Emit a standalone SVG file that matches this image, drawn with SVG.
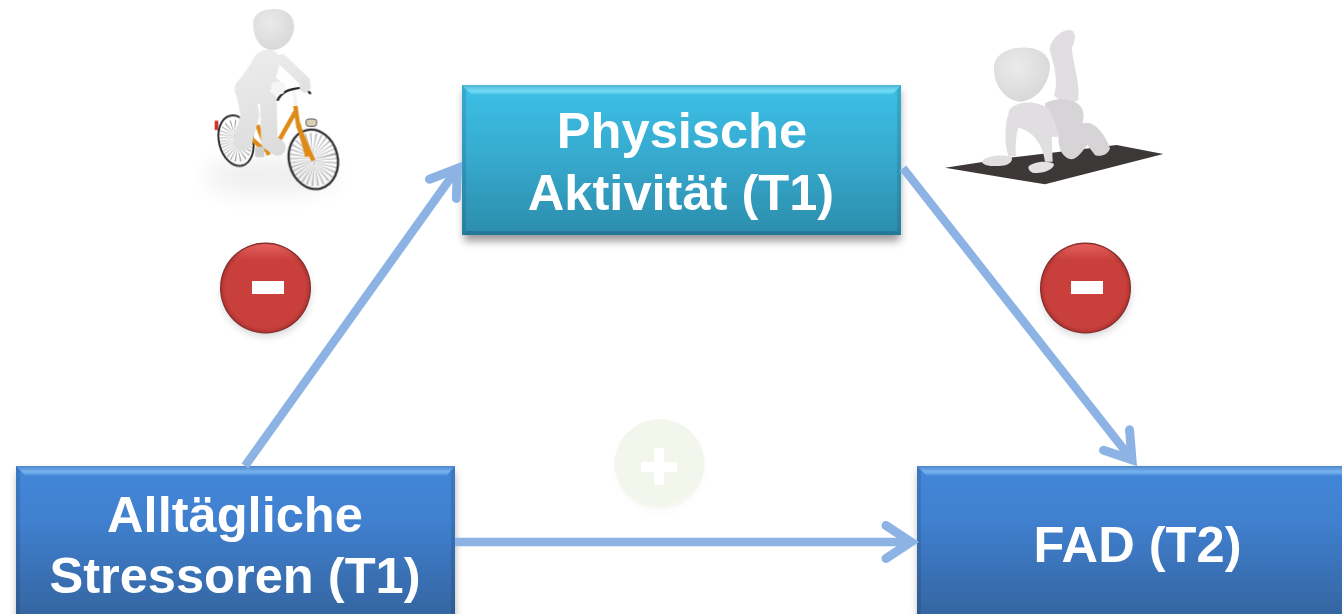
<svg xmlns="http://www.w3.org/2000/svg" width="1342" height="614" viewBox="0 0 1342 614">
<style>
.lbl{font-family:"Liberation Sans",Arial,sans-serif;font-weight:700;font-size:50.600px;fill:#fff;text-anchor:middle}
.conn{fill:none;stroke:#8db3e4;stroke-width:8.500;marker-end:url(#arrow)}
.skin{fill:url(#skin)}
.limb{fill:none;stroke:url(#skin);stroke-linecap:round;stroke-linejoin:round}
.edge{fill:#000;opacity:.1}
.yo{fill:#e0dee0}
.yo2{fill:#d6d4d6}
</style>
<defs>
<linearGradient id="teal" x1="0" y1="0" x2="0" y2="1"><stop offset="0" stop-color="#3cc0e6"/><stop offset=".45" stop-color="#37abd0"/><stop offset="1" stop-color="#2c8dac"/></linearGradient>
<linearGradient id="blue" x1="0" y1="0" x2="0" y2="1"><stop offset="0" stop-color="#4386d8"/><stop offset=".35" stop-color="#4080cf"/><stop offset="1" stop-color="#34649f"/></linearGradient>
<linearGradient id="hiT" x1="0" y1="0" x2="0" y2="1"><stop offset="0" stop-color="#4fb4d4"/><stop offset=".6" stop-color="#74dcf6"/><stop offset="1" stop-color="#40bfe4"/></linearGradient>
<linearGradient id="hiB" x1="0" y1="0" x2="0" y2="1"><stop offset="0" stop-color="#4c86cc"/><stop offset=".6" stop-color="#78b4f0"/><stop offset="1" stop-color="#4587d9"/></linearGradient>
<radialGradient id="red" cx=".5" cy=".5" r=".5"><stop offset="0" stop-color="#cb403d"/><stop offset=".88" stop-color="#c93f3c"/><stop offset=".96" stop-color="#b33734"/><stop offset="1" stop-color="#702524"/></radialGradient>
<linearGradient id="gloss" x1="0" y1="0" x2="0" y2="1"><stop offset="0" stop-color="#ee6a64" stop-opacity=".8"/><stop offset=".18" stop-color="#ee6a64" stop-opacity="0"/></linearGradient>
<radialGradient id="pale" cx=".5" cy=".45" r=".55"><stop offset="0" stop-color="#f2f5ea"/><stop offset=".9" stop-color="#f3f6ec"/><stop offset="1" stop-color="#f7f9f3"/></radialGradient>
<linearGradient id="skin" gradientUnits="userSpaceOnUse" x1="200" y1="100" x2="320" y2="460"><stop offset="0" stop-color="#f0f0f0"/><stop offset="1" stop-color="#dcdcdc"/></linearGradient>
<radialGradient id="head" cx=".4" cy=".35" r=".75"><stop offset="0" stop-color="#ecebec"/><stop offset="1" stop-color="#d6d4d6"/></radialGradient>
<filter id="sh" x="-5%" y="-10%" width="110%" height="125%"><feGaussianBlur stdDeviation="4"/></filter>
<filter id="sh2" x="-30%" y="-30%" width="160%" height="160%"><feGaussianBlur stdDeviation="4"/></filter>
<filter id="soft" x="-5%" y="-5%" width="110%" height="110%"><feGaussianBlur stdDeviation="1.600"/></filter>
<filter id="ground" x="-40%" y="-100%" width="180%" height="300%"><feGaussianBlur stdDeviation="36"/></filter>
<marker id="arrow" markerUnits="userSpaceOnUse" markerWidth="60" markerHeight="60" viewBox="-50 -30 60 60" refX="-8" refY="0" orient="auto">
<path d="M-33-16.500L-8 0L-33 16.500" fill="none" stroke="#8db3e4" stroke-width="9" stroke-linecap="round" stroke-linejoin="miter" stroke-miterlimit="8"/>
</marker>
</defs>
<rect width="1342" height="614" fill="#fff"/>

<g id="figure-cyclist" transform="translate(170 0) scale(.3333)">
<ellipse cx="300" cy="530" rx="200" ry="50" fill="#000" opacity=".07" filter="url(#ground)"/>
<g filter="url(#soft)">
<rect x="134" y="362" width="11" height="28" fill="#d3322c"/>
<ellipse cx="198" cy="422" rx="25" ry="38" transform="rotate(-14 198 422)" fill="none" stroke="#a9a9a9" stroke-width="50" stroke-dasharray="2 5"/>
<ellipse cx="198" cy="422" rx="51" ry="77" transform="rotate(-14 198 422)" fill="none" stroke="#333" stroke-width="6"/>
<ellipse cx="430" cy="478" rx="36" ry="44" transform="rotate(-14 430 478)" fill="none" stroke="#a9a9a9" stroke-width="72" stroke-dasharray="2 6"/>
<ellipse cx="430" cy="478" rx="73" ry="90" transform="rotate(-14 430 478)" fill="none" stroke="#333" stroke-width="7"/>
<path d="M372 270L378 320" stroke="#f2f2f2" stroke-width="9" fill="none"/>
<path d="M376 318L385 380L430 482M385 370L412 470M376 335L312 448L280 448L240 412M262 375L296 465" fill="none" stroke="#de8a14" stroke-width="13" stroke-linejoin="round"/>
<rect x="408" y="357" width="32" height="22" rx="8" fill="#d9d2b4" stroke="#555" stroke-width="3"/>
<rect x="255" y="440" width="28" height="32" rx="8" fill="#cfcfcf"/>
<path class="limb" stroke-width="50" d="M295 300L298 425L322 442"/>
<path class="limb" stroke-width="56" d="M225 270L240 345L218 425"/>
<path class="skin" d="M252 172C270 145 312 142 325 165C335 195 318 235 305 255C302 295 270 320 240 315C200 305 185 275 198 250C220 225 235 205 252 172Z"/>
<path class="limb" stroke-width="32" d="M335 178L405 245"/>
<path class="limb" stroke-width="38" d="M268 185L285 230L322 262"/>
<rect x="305" y="245" width="40" height="40" rx="12" fill="#f6f6f6"/>
<path d="M322 302C335 275 355 266 405 262L422 282" fill="none" stroke="#2b2b2b" stroke-width="7"/>
<rect x="305" y="245" width="38" height="38" rx="12" fill="#f6f6f6"/>
<ellipse cx="405" cy="258" rx="17" ry="20" fill="#e2e2e2"/>
<path fill="url(#head)" d="M250 70C250 35 290 24 325 28C360 32 375 60 372 85C368 125 335 152 305 150C270 148 248 110 250 70Z"/>
</g>
</g>

<g id="figure-exercise" transform="translate(930 20) scale(.3333)">
<g filter="url(#soft)">
<path d="M45 443L250 412L560 375L700 402L345 493Z" fill="#3d3837"/>
<path class="yo2" d="M385 350C400 325 450 305 480 310C510 320 535 365 540 385C535 405 510 412 495 405L472 375C455 395 445 415 425 418C400 415 385 390 385 350Z"/>
<path class="yo" d="M360 95C355 70 385 30 420 30C440 32 438 60 425 85C430 130 450 190 445 240C430 250 385 245 372 225C385 190 375 140 360 95Z"/>
<path class="yo2" d="M345 250C380 230 440 230 458 270C468 305 450 345 405 352C375 355 350 330 345 250Z"/>
<path class="yo" d="M232 290C225 330 222 370 236 410L258 408C255 380 258 345 266 318C255 300 240 285 232 290Z"/>
<path class="yo" d="M238 270C260 240 330 240 358 270C375 300 385 345 390 350L365 350L368 425L345 425C340 385 320 345 280 328C245 315 228 295 238 270Z"/>
<path class="yo" d="M155 425C170 405 225 403 245 412C250 425 235 437 215 437C190 440 160 438 155 425Z"/>
<path fill="#e3e1e3" d="M295 440C310 425 355 420 372 432C372 448 345 458 320 459C305 460 295 452 295 440Z"/>
<path fill="url(#head)" d="M192 140C195 100 240 80 290 83C335 85 362 110 360 145C355 190 325 238 275 245C225 245 188 190 192 140Z"/>
</g>
</g>

<g id="node-physische">
<rect x="464" y="91" width="436" height="150" fill="#000" opacity=".4" filter="url(#sh)"/>
<rect x="462" y="85" width="439" height="150" fill="url(#teal)"/>
<path d="M462 85H901L892 95H472Z" fill="url(#hiT)"/>
<path class="edge" d="M462 85L466 90V231L462 235Z"/>
<path class="edge" d="M901 85L897 90V231L901 235Z"/>
<path d="M462 235L466 231H897L901 235Z" fill="#24789a"/>
<text class="lbl" x="682" y="148">Physische</text>
<text class="lbl" x="681" y="210">Aktivität (T1)</text>
</g>

<g id="node-stressoren">
<rect x="18" y="472" width="436" height="150" fill="#000" opacity=".4" filter="url(#sh)"/>
<rect x="16" y="466" width="439" height="154" fill="url(#blue)"/>
<path d="M16 466H455L446 476H26Z" fill="url(#hiB)"/>
<path class="edge" d="M16 466L20 471V620H16Z"/>
<path class="edge" d="M455 466L451 471V620H455Z"/>
<text class="lbl" x="235" y="532">Alltägliche</text>
<text class="lbl" x="235" y="593">Stressoren (T1)</text>
</g>

<g id="node-fad">
<rect x="919" y="472" width="430" height="150" fill="#000" opacity=".4" filter="url(#sh)"/>
<rect x="917" y="466" width="430" height="154" fill="url(#blue)"/>
<path d="M917 466H1347V476H927Z" fill="url(#hiB)"/>
<path class="edge" d="M917 466L921 471V620H917Z"/>
<text class="lbl" x="1137.500" y="562">FAD (T2)</text>
</g>

<g id="connectors">
<path class="conn" d="M245 466L457.400 168.500"/>
<path class="conn" d="M903 168L1132 459.700"/>
<path class="conn" d="M455 542L911 542"/>
</g>

<g id="badge-minus-left">
<ellipse cx="266" cy="293" rx="44" ry="43" fill="#000" opacity=".18" filter="url(#sh2)"/>
<circle cx="265.500" cy="288" r="45.500" fill="url(#red)"/>
<circle cx="265.500" cy="288" r="44" fill="url(#gloss)"/>
<rect x="252" y="281" width="32" height="13" fill="#fff"/>
</g>
<g id="badge-minus-right">
<ellipse cx="1086" cy="293" rx="44" ry="43" fill="#000" opacity=".18" filter="url(#sh2)"/>
<circle cx="1085.500" cy="288" r="45.500" fill="url(#red)"/>
<circle cx="1085.500" cy="288" r="44" fill="url(#gloss)"/>
<rect x="1071" y="281" width="32" height="13" fill="#fff"/>
</g>
<g id="badge-plus">
<ellipse cx="660" cy="469" rx="45" ry="44" fill="#000" opacity=".015" filter="url(#sh2)"/>
<circle cx="659.500" cy="464" r="45" fill="url(#pale)"/>
<path d="M654 448H664V462H677V472H664V485H654V472H641V462H654Z" fill="#fff"/>
</g>
</svg>
